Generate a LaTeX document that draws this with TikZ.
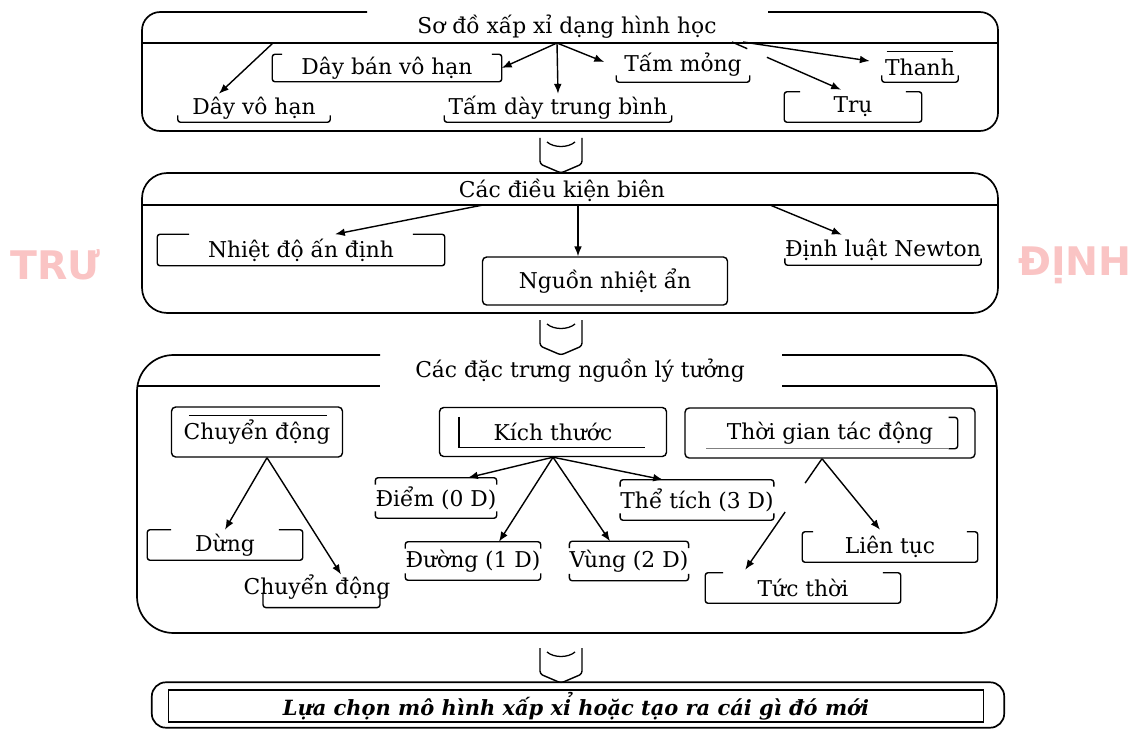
\documentclass[tikz,border=0pt]{standalone}
\usepackage{fontspec}
\setmainfont{DejaVu Serif}
\newfontfamily\wmfont{DejaVu Sans}
\usetikzlibrary{arrows,arrows.meta,calc,positioning}
\definecolor{wmpink}{RGB}{250,196,196}
\tikzset{%
	panel/.style     = {line width=1.2pt, rounded corners=#1},
	panel/.default   = 14pt,
	lbl/.style       = {inner sep=0pt, font=\fontsize{15.5}{17}\selectfont},
	sz/.style 2 args = {minimum width=#1*0.025cm, minimum height=#2*0.025cm},
	itembox/.style   = {lbl, draw, line width=1pt, rounded corners=3pt},
	trim/.style      = {line width=1pt, rounded corners=2pt},
	arrow/.style     = {line width=1pt,-{Latex[length=7pt,width=5.5pt]}},
	watermark/.style = {inner sep=0pt, text=wmpink, font=\wmfont\bfseries\fontsize{28}{28}\selectfont},
}
\begin{document}
\begin{tikzpicture}[x=0.025cm,y=-0.025cm]
	\useasboundingbox (0,0) rectangle (1140,729);
	
	% watermark
	\node[watermark,anchor=west] (wmL) at (10,265) {TRƯ};
	\node[watermark,anchor=east] (wmR) at (1132,265) {ĐỊNH};
	
	% panel 1: geometry
	\draw[panel=13pt] (367,12) -- (142,12) -- (142,131) -- (998,131) -- (998,12) -- (768,12);
	\draw[line width=1pt] (142,43) -- (998,43);
	\node[lbl] (geo) at (567,27) {Sơ đồ xấp xỉ dạng hình học};
	\node[lbl,sz={229}{27}] (dbvh) at (387,68) {Dây bán vô hạn};
	\node[lbl,sz={133}{34}] (tm) at (683,65) {Tấm mỏng};
	\node[lbl,sz={76}{30}] (thanh) at (920,67) {Thanh};
	\node[lbl,sz={152}{28}] (dvh) at (254,108) {Dây vô hạn};
	\node[lbl,sz={227}{28}] (tdtb) at (558,108) {Tấm dày trung bình};
	\node[lbl,sz={137}{30}] (tru) at (853,107) {Trụ};
	\coordinate (g1) at (557,43);
	\coordinate (g2) at (273,43);
	\coordinate (g3) at (732,42);
	\coordinate (g4) at (743,42);
	\draw[arrow] (g1) -- (dbvh.east);
	\draw[arrow] (g1) -- (tdtb.north);
	\draw[arrow] (g1) -- ($(tm.west)+(-12,-3)$);
	\draw[arrow] (g2) -- ($(dvh.north west)!0.27!(dvh.north east)$);
	\draw[arrow] (g4) -- ($(thanh.west)+(-12,-6)$);
	\coordinate (trutip) at ($(tru.north)+(-12,-2)$);
	\draw[line width=1pt] (g3) -- ($(g3)!0.14!(trutip)$);
	\draw[arrow] ($(g3)!0.32!(trutip)$) -- (trutip);
	\draw[line width=1pt] ($(thanh.north west)+(5,0)$) -- ($(thanh.north east)+(-5,0)$);
	
	% links between the panels
	\foreach \y in {138,320,648} {
		\draw[line width=1pt, rounded corners=2pt] (540,\y) -- (540,\y+26) -- (561,\y+35) -- (582,\y+26) -- (582,\y);
		\draw[line width=0.9pt] (547,\y+4) .. controls (554,\y+10) and (568,\y+10) .. (575,\y+4);
	}
	
	% panel 2: boundary conditions
	\draw[panel=18pt] (142,173) rectangle (998,313);
	\draw[line width=1pt] (142,205) -- (998,205);
	\node[lbl] (bc) at (562,190) {Các điều kiện biên};
	\node[lbl,sz={287}{31}] (nhiet) at (301,250) {Nhiệt độ ấn định};
	\node[itembox,sz={245}{48}] (nguon) at (605,281) {Nguồn nhiệt ẩn};
	\node[lbl,sz={193}{30}] (newton) at (883,250) {Định luật Newton};
	\coordinate (b1) at (483,205);
	\coordinate (b2) at (578,205);
	\coordinate (b3) at (770,205);
	\draw[arrow] (b1) -- ($(nhiet.north)+(34,0)$);
	\draw[arrow] (b2) -- (b2 |- nguon.north);
	\draw[arrow] (b3) -- ($(newton.north west)!0.29!(newton.north east)$);
	
	% panel 3: ideal source
	\draw[panel=26pt] (380,355) -- (137,355) -- (137,633) -- (997,633) -- (997,355) -- (782,355);
	\draw[line width=1pt] (137,386) -- (380,386);
	\draw[line width=1pt] (782,386) -- (997,386);
	\node[lbl] (ideal) at (580,371) {Các đặc trưng nguồn lý tưởng};
	\node[itembox,sz={171}{50}] (cd) at (257,432) {Chuyển động};
	\node[itembox,sz={227}{49}] (kt) at (553,432) {Kích thước};
	\node[itembox,sz={290}{50}] (tg) at (830,433) {Thời gian tác động};
	\node[lbl,sz={116}{40}] (diem) at (436,498) {Điểm (0 D)};
	\node[lbl,sz={135}{40}] (thetich) at (697,500) {Thể tích (3 D)};
	\node[lbl,sz={117}{38}] (duong) at (473,561) {Đường (1 D)};
	\node[lbl,sz={115}{39}] (vung) at (629,561) {Vùng (2 D)};
	\node[lbl,sz={155}{30}] (dung) at (225,545) {Dừng};
	\node[lbl] (cd2) at (317,587) {Chuyển động};
	\node[lbl,sz={175}{30}] (lt) at (890,547) {Liên tục};
	\node[lbl,sz={195}{30}] (tt) at (803,588) {Tức thời};
	\draw[line width=1pt] ($(cd.north west)+(18,9)$) -- ($(cd.north east)+(-16,9)$);
	\draw[line width=1pt] ($(kt.north west)+(20,10)$) -- ($(kt.south west)+(20,-10)$) -- ($(kt.south east)+(-22,-10)$);
	\draw[trim] ($(tg.north east)+(-27,10)$) -- ($(tg.north east)+(-18,10)$) -- ($(tg.south east)+(-18,-10)$) -- ($(tg.south east)+(-27,-10)$);
	\draw[line width=0.5pt, gray] ($(tg.south west)+(22,-10)$) -- ($(tg.south east)+(-27,-10)$);
	\draw[trim] ($(cd2.south)+(-54,-7)$) -- ($(cd2.south)+(-54,8)$) -- ($(cd2.south)+(63,8)$) -- ($(cd2.south)+(63,-7)$);
	\coordinate (c1) at ($(cd.south)+(10,0)$);
	\coordinate (t0) at ($(tg.south)+(-8,0)$);
	\coordinate (ttip) at ($(tt.north west)+(40,-3)$);
	\draw[arrow] (c1) -- (dung.north);
	\draw[arrow] (c1) -- ($(cd2.north)+(24,0)$);
	\draw[arrow] (kt.south) -- ($(diem.north)+(32,0)$);
	\draw[arrow] (kt.south) -- ($(duong.north)+(26,0)$);
	\draw[arrow] (kt.south) -- ($(vung.north)+(-19,0)$);
	\draw[arrow] (kt.south) -- ($(thetich.north)+(-34,0)$);
	\draw[arrow] (t0) -- ($(lt.north)+(-10,-2)$);
	\draw[line width=1pt] (t0) -- ($(t0)!0.22!(ttip)$);
	\draw[arrow] ($(t0)!0.48!(ttip)$) -- (ttip);
	
	% brackets round the labels
	\foreach \n/\s in {dbvh/10,tru/16,nhiet/32,dung/24,lt/11,tt/18}
		\draw[trim] ($(\n.north west)+(\s,0)$) -- (\n.north west) -- (\n.south west) -- (\n.south east) -- (\n.north east) -- ($(\n.north east)+(-\s,0)$);
	\foreach \n in {dvh,tdtb,tm,thanh,newton,diem,thetich,duong,vung}
		\draw[trim] ($(\n.south west)+(0,-7)$) -- (\n.south west) -- (\n.south east) -- ++(0,-7);
	\foreach \n in {diem,thetich,duong,vung}
		\draw[trim] ($(\n.north west)+(0,7)$) -- (\n.north west) -- (\n.north east) -- ++(0,7);
	
	% panel 4: choice
	\node[lbl,draw,line width=1pt,sz={815}{32},font={\fontsize{14.9}{16}\selectfont\bfseries\itshape}] (choice) at (576,706) {Lựa chọn mô hình xấp xỉ hoặc tạo ra cái gì đó mới};
	\draw[panel=10pt] ($(choice.north west)+(-16,-7)$) rectangle ($(choice.south east)+(20,5)$);
\end{tikzpicture}
\end{document}
